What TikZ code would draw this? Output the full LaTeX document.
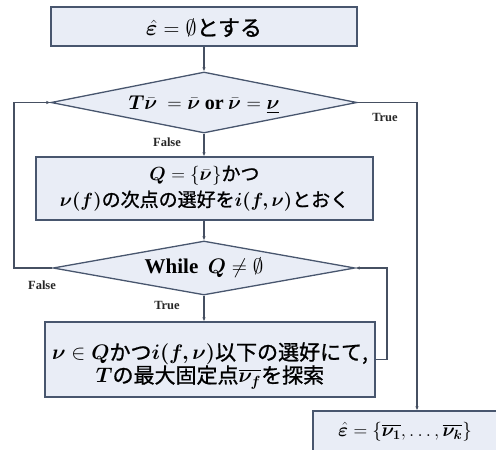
\RequirePackage{fix-cm}
\documentclass[tikz,border=0pt]{standalone}
\usepackage{amsmath,amssymb,bm}
\usepackage{fontspec}
\setmainfont{Liberation Serif}
\newfontfamily\jp{Noto Sans CJK JP}[FakeBold=1]
\usetikzlibrary{shapes.geometric,arrows.meta}
\definecolor{boxfill}{RGB}{233,237,246}
\definecolor{boxline}{RGB}{72,86,110}
\definecolor{conn}{RGB}{70,80,98}
\tikzset{
  procbox/.style={draw=boxline,fill=boxfill,line width=1.3pt,inner sep=0pt,align=center},
  decbox/.style={draw=boxline,fill=boxfill,line width=1.3pt,diamond,inner sep=0pt},
  conline/.style={draw=conn,line width=1.1pt},
  arr/.style={conline,-{Latex[length=4pt,width=3.5pt]}},
  lbl/.style={font=\rmfamily\bfseries\fontsize{12.5}{14}\selectfont,text=black!85},
}
\begin{document}
\begin{tikzpicture}[x=1pt,y=-1pt]
\useasboundingbox (0,0) rectangle (496,450);
\clip (0,0) rectangle (496,450);
\node[procbox,minimum width=306pt,minimum height=39pt,font=\jp\fontsize{22}{26}\selectfont] (top) at (204,26.5) {\rule{0pt}{20pt}$\hat{\bm\varepsilon} = \emptyset$とする};
\node[decbox,aspect=5,minimum width=306pt,minimum height=61pt,font=\jp\fontsize{20}{24}\selectfont] (d1) at (204,102.5) {\rule{0pt}{18pt}$\bm{T\bar{\nu}}\ = \bm{\bar\nu}$ {\rmfamily\bfseries or} $\bm{\bar\nu} = \underline{\bm\nu}$};
\node[procbox,minimum width=337pt,minimum height=63pt,font=\jp\fontsize{19}{26}\selectfont] (b2) at (204.5,188.5) {$\bm{Q} = \{\bar{\bm\nu}\}$かつ\\$\bm{\nu(f)}$の次点の選好を$\bm{i(f,\nu)}$とおく};
\node[decbox,aspect=5.6,minimum width=302pt,minimum height=54pt,font=\jp\fontsize{21}{25}\selectfont] (d2) at (204,268) {{\rmfamily\bfseries While}\ \ $\bm{Q} \neq \emptyset$};
\node[procbox,minimum width=330pt,minimum height=75pt,font=\jp\fontsize{21}{23}\selectfont] (b3) at (210,359.5) {\rule{0pt}{30pt}$\bm{\nu}\in\bm{Q}$かつ$\bm{i(f,\nu)}$以下の選好にて,\\$\bm{T}$の最大固定点$\overline{\bm{\nu_f}}$を探索};
\node[procbox,minimum width=184pt,minimum height=41pt,font=\jp\fontsize{19}{23}\selectfont] (fin) at (405,431.5) {$\hat{\bm\varepsilon} = \{\overline{\bm{\nu_1}}, \dots, \overline{\bm{\nu_k}}\}$};
\coordinate (lft) at (14,268);
\coordinate (rt) at (417,102.5);
\coordinate (lp) at (387,359.5);
\draw[arr] (top.south) -- (d1.north);
\draw[arr] (d1.south) -- (d1.south |- b2.north);
\draw[arr] (d2.north |- b2.south) -- (d2.north);
\draw[arr] (d2.south) -- (d2.south |- b3.north);
\draw[arr] (d2.west) -- (lft) |- (d1.west);
\draw[arr] (d1.east) -- (rt) -- (rt |- fin.north);
\draw[arr] (b3.east) -- (lp) |- (d2.east);
\node[lbl] (f1) at (167,142) {False};
\node[lbl] (t1) at (385,117) {True};
\node[lbl] (f2) at (42,285) {False};
\node[lbl] (t2) at (167,305) {True};
\end{tikzpicture}
\end{document}
